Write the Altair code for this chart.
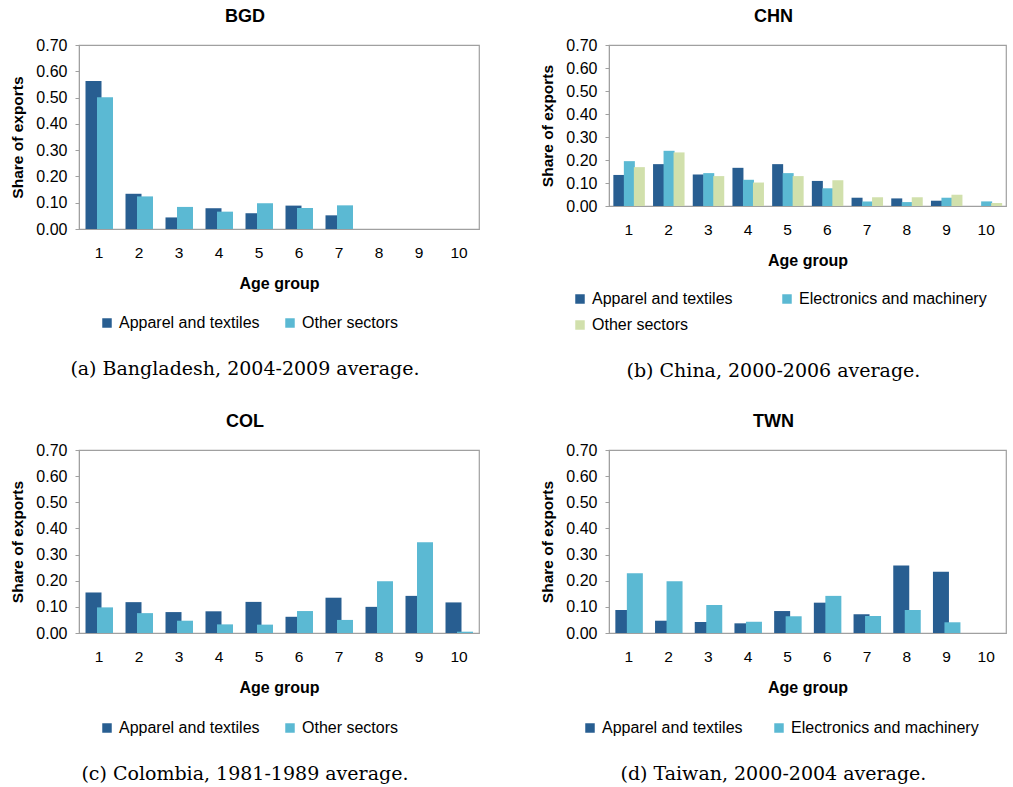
import altair as alt
import pandas as pd

# Age groups shown on every panel
ages = list(range(1, 11))

# Bangladesh, 2004-2009 average
bgd_series = ["Apparel and textiles", "Other sectors"]
bgd_apparel = [0.563, 0.134, 0.044, 0.079, 0.060, 0.089, 0.052, None, None, None]
bgd_other = [0.501, 0.124, 0.084, 0.066, 0.098, 0.080, 0.090, None, None, None]

# China, 2000-2006 average
chn_series = ["Apparel and textiles", "Electronics and machinery", "Other sectors"]
chn_apparel = [0.135, 0.182, 0.137, 0.166, 0.182, 0.109, 0.036, 0.033, 0.023, None]
chn_electronics = [0.195, 0.240, 0.143, 0.114, 0.143, 0.077, 0.020, 0.017, 0.036, 0.020]
chn_other = [0.169, 0.233, 0.130, 0.102, 0.130, 0.112, 0.038, 0.038, 0.049, 0.013]

# Colombia, 1981-1989 average
col_series = ["Apparel and textiles", "Other sectors"]
col_apparel = [0.155, 0.118, 0.080, 0.083, 0.119, 0.062, 0.135, 0.100, 0.142, 0.117]
col_other = [0.098, 0.076, 0.047, 0.033, 0.032, 0.084, 0.050, 0.198, 0.347, 0.005]

# Taiwan, 2000-2004 average
twn_series = ["Apparel and textiles", "Electronics and machinery"]
twn_apparel = [0.088, 0.047, 0.042, 0.037, 0.084, 0.116, 0.072, 0.258, 0.234, None]
twn_electronics = [0.229, 0.198, 0.107, 0.043, 0.064, 0.142, 0.065, 0.088, 0.041, None]

y_ticks = [0.0, 0.1, 0.2, 0.3, 0.4, 0.5, 0.6, 0.7]

DARK = "#285e91"
LIGHT = "#5bb9d3"
GREEN = "#d1e0ac"
FRAME = "#a0a0a0"
SANS = "Liberation Sans"
SERIF = "DejaVu Serif"


def panel(code, series, columns, colors, offsets, bar_w, width, height,
          legend_x, legend_y, legend_cols, col_pad, caption):
    rows = []
    for name, vals in zip(series, columns):
        for age, v in zip(ages, vals):
            if v is not None:
                rows.append({"age": age, "series": name, "share": v})
    df = pd.DataFrame(rows)

    color = alt.Color(
        "series:N",
        scale=alt.Scale(domain=series, range=colors),
        legend=alt.Legend(
            title=None, orient="none", legendX=legend_x, legendY=legend_y,
            direction="horizontal", columns=legend_cols, columnPadding=col_pad,
            rowPadding=10, symbolType="square", symbolSize=90,
            symbolStrokeWidth=0, labelFont=SANS, labelFontSize=16,
            labelColor="black", labelOffset=4, labelLimit=300,
        ),
    )
    x = alt.X(
        "age:O",
        scale=alt.Scale(domain=ages, paddingInner=0, paddingOuter=0),
        axis=alt.Axis(
            title="Age group", labelAngle=0, ticks=False, labelPadding=16,
            labelFontSize=15.5, labelColor="black", labelFont=SANS,
            titleFontSize=16, titleFont=SANS, titleFontWeight="bold",
            titleColor="black", titlePadding=15, domainColor=FRAME,
        ),
    )
    y = alt.Y(
        "share:Q",
        scale=alt.Scale(domain=[0, 0.7], nice=False),
        axis=alt.Axis(
            title="Share of exports", values=y_ticks, format=".2f", grid=False,
            tickSize=4, tickColor=FRAME, domainColor=FRAME, labelPadding=8,
            labelFontSize=16, labelColor="black", labelFont=SANS,
            titleFontSize=15.5, titleFont=SANS, titleFontWeight="bold",
            titleColor="black", titlePadding=10,
        ),
    )
    base = alt.Chart(df)
    layers = [
        base.transform_filter(alt.datum.series == name)
        .mark_bar(width=bar_w, xOffset=off)
        .encode(x=x, y=y, color=color)
        for name, off in zip(series, offsets)
    ]
    plot = alt.layer(*layers).properties(
        width=width, height=height,
        title=alt.Title(code, font=SANS, fontSize=18, fontWeight="bold",
                        color="black", anchor="middle", frame="bounds", offset=11),
    )
    return alt.vconcat(plot).properties(
        title=alt.Title(caption, orient="bottom", font=SERIF, fontSize=19,
                        fontWeight="normal", color="black", anchor="middle",
                        frame="bounds", offset=29),
    )


pa = panel("BGD", bgd_series, [bgd_apparel, bgd_other], [DARK, LIGHT],
           [-5.5, 6], 16, 400, 184, 20, 270, 2, 22,
           "(a) Bangladesh, 2004-2009 average.")
pb = panel("CHN", chn_series, [chn_apparel, chn_electronics, chn_other],
           [DARK, LIGHT, GREEN], [-10, 0.5, 10.5], 11, 397, 161, -37, 246, 2, 46,
           "(b) China, 2000-2006 average.")
pc = panel("COL", col_series, [col_apparel, col_other], [DARK, LIGHT],
           [-5.5, 6], 16, 400, 183, 20, 270, 2, 22,
           "(c) Colombia, 1981-1989 average.")
pd_ = panel("TWN", twn_series, [twn_apparel, twn_electronics], [DARK, LIGHT],
            [-5.5, 6], 16, 397, 183, -27, 270, 2, 28,
            "(d) Taiwan, 2000-2004 average.")

top = alt.hconcat(pa, pb, spacing=60).resolve_scale(color="independent").resolve_legend(color="independent")
bottom = alt.hconcat(pc, pd_, spacing=60).resolve_scale(color="independent").resolve_legend(color="independent")

chart = (
    alt.vconcat(top, bottom, spacing=31)
    .resolve_scale(color="independent")
    .resolve_legend(color="independent")
    .properties(padding={"left": 10, "top": 7, "right": 0, "bottom": 0})
    .configure(font=SANS)
    .configure_view(stroke=FRAME, strokeWidth=1.2)
    .configure_concat(spacing=0)
)

chart.save("out.html", embed_options={"renderer": "svg", "actions": False})
